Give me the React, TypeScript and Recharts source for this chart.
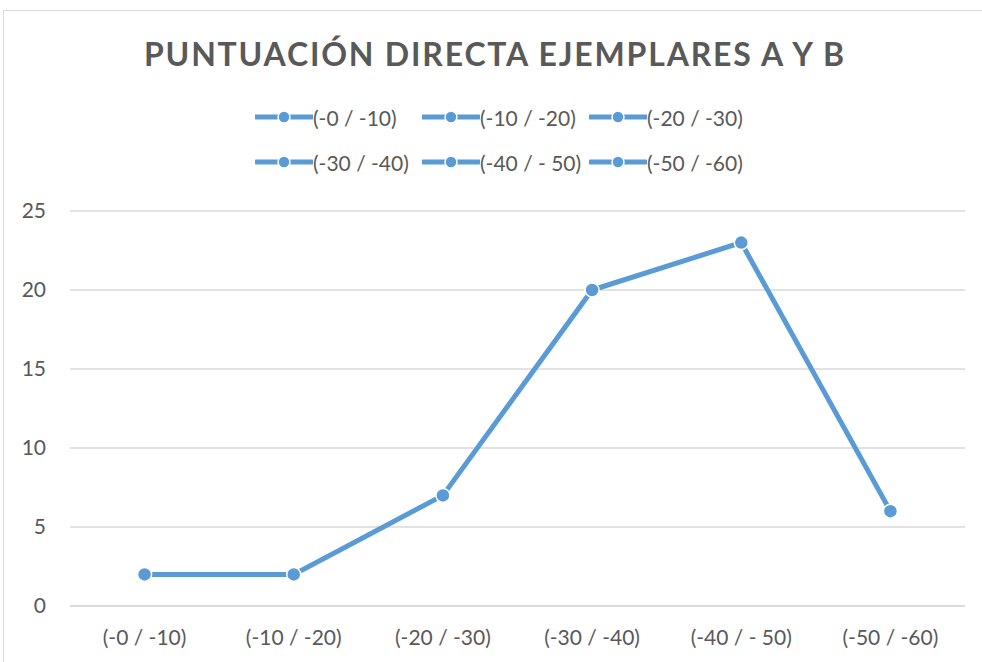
import React from 'react'
import { LineChart, Line, XAxis, YAxis, CartesianGrid } from 'recharts'

const categories = ['(-0 / -10)', '(-10 / -20)', '(-20 / -30)', '(-30 / -40)', '(-40 / - 50)', '(-50 / -60)']
const puntuacion = [2, 2, 7, 20, 23, 6]
const yTicks = [0, 5, 10, 15, 20, 25]

const data = categories.map((cat, i) => ({ cat, value: puntuacion[i] }))

const BLUE = '#5B9BD5'
const TEXT = '#595959'
const FONT = 'Lato, "Open Sans", sans-serif'

function LegendBox() {
  return (
    <div style={{ position: 'absolute', left: 255, top: 104, width: 510, display: 'flex', flexWrap: 'wrap', rowGap: 19 }}>
      {categories.map((c) => (
        <div key={c} style={{ width: 167, display: 'flex', alignItems: 'center', height: 26 }}>
          <svg width={58} height={16}>
            <line x1={1} y1={8} x2={57} y2={8} stroke={BLUE} strokeWidth={5} strokeLinecap="round" />
            <circle cx={29} cy={8} r={6} fill={BLUE} stroke="#fff" strokeWidth={1.5} />
          </svg>
          <span style={{ fontSize: 21, color: TEXT, fontFamily: FONT, whiteSpace: 'nowrap' }}>{c}</span>
        </div>
      ))}
    </div>
  )
}

export default function App() {
  return (
    <div style={{ position: 'absolute', left: 0, top: 0, width: 982, height: 662, overflow: 'hidden', background: '#fff' }}>
      <div style={{ position: 'absolute', left: 3, top: 10, width: 1000, height: 700, border: '1px solid #d9d9d9' }} />
      <LineChart
        width={982}
        height={662}
        data={data}
        margin={{ top: 211, right: 17, bottom: 26, left: 30 }}
        style={{ position: 'absolute', left: 0, top: 0 }}
      >
        <CartesianGrid vertical={false} stroke="#d9d9d9" strokeWidth={1.3} />
        <XAxis
          dataKey="cat"
          scale="band"
          axisLine={{ stroke: '#d9d9d9', strokeWidth: 1.3 }}
          tickLine={false}
          tickSize={0}
          tickMargin={24}
          interval={0}
          tick={{ fill: TEXT, fontSize: 21, fontFamily: FONT }}
        />
        <YAxis
          width={40}
          domain={[0, 25]}
          ticks={yTicks}
          axisLine={false}
          tickLine={false}
          tickSize={0}
          tickMargin={24}
          tick={{ fill: TEXT, fontSize: 21, fontFamily: FONT }}
        />
        <Line
          dataKey="value"
          stroke={BLUE}
          strokeWidth={5}
          strokeLinecap="round"
          dot={{ r: 7, fill: BLUE, stroke: '#fff', strokeWidth: 1.5 }}
          isAnimationActive={false}
        />
      </LineChart>
      <div
        style={{
          position: 'absolute',
          left: 0,
          width: 990,
          top: 34,
          textAlign: 'center',
          fontFamily: FONT,
          fontWeight: 700,
          fontSize: 32,
          letterSpacing: 1.8,
          color: TEXT,
        }}
      >
        PUNTUACIÓN DIRECTA EJEMPLARES A Y B
      </div>
      <LegendBox />
    </div>
  )
}
